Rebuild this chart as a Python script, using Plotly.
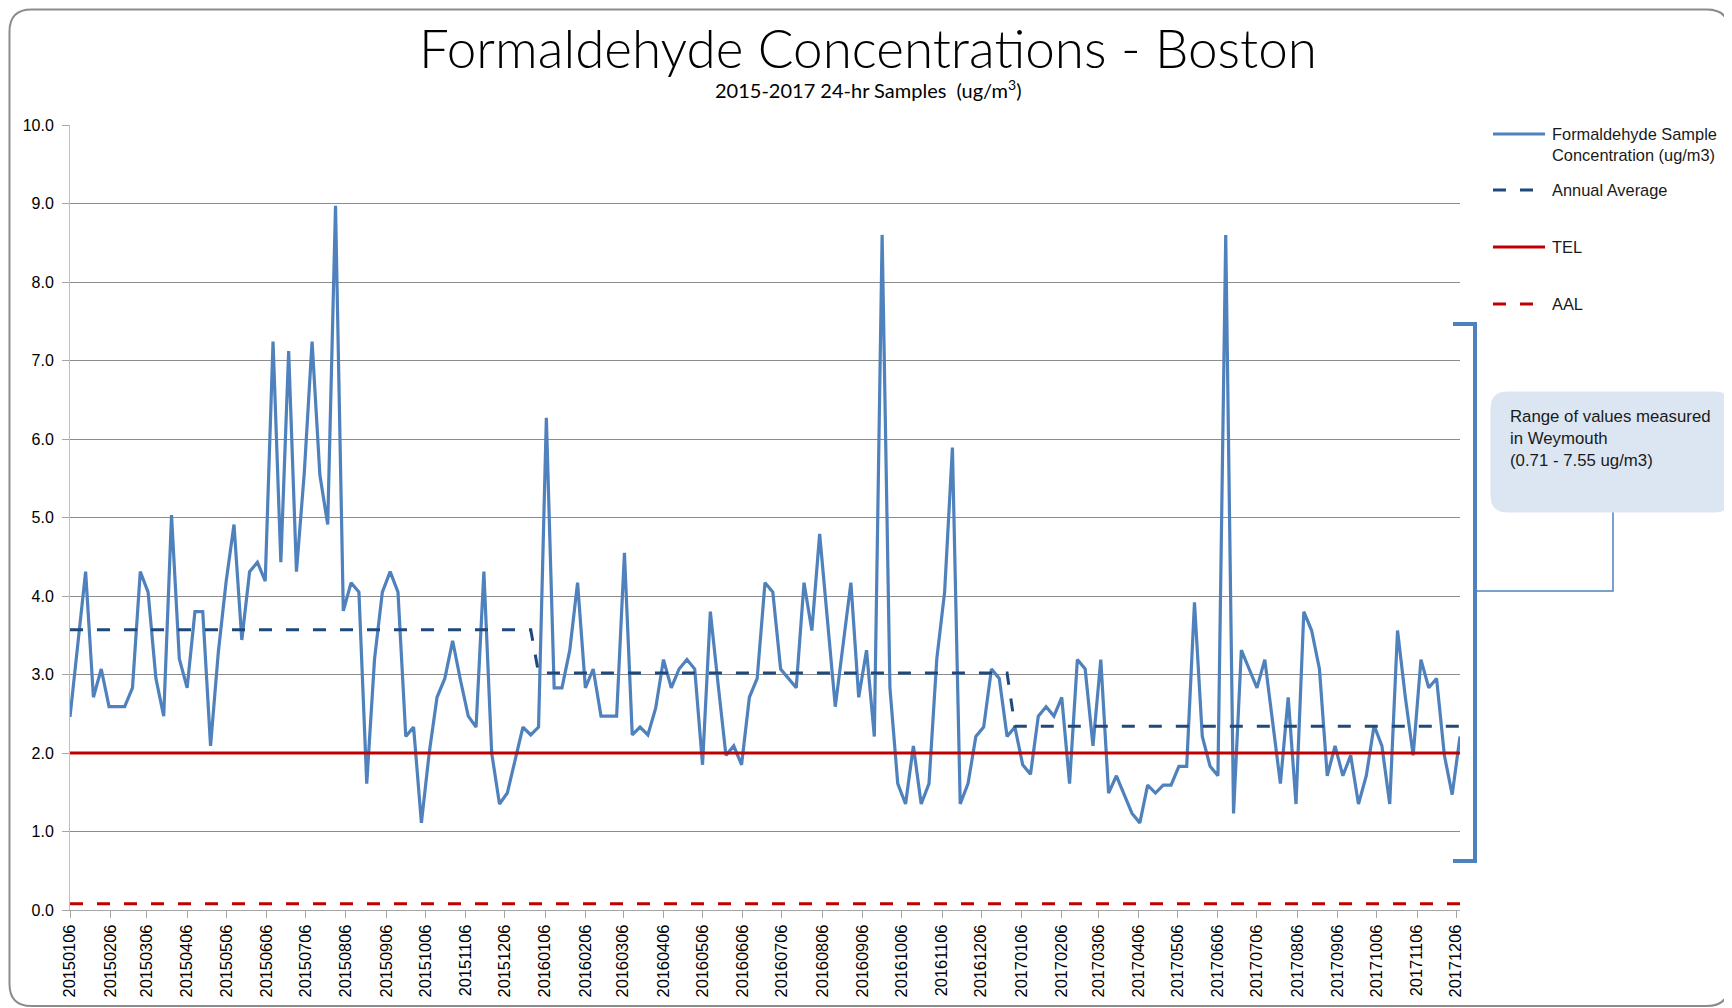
import plotly.graph_objects as go
import pandas as pd

# ---------------- data ----------------
conc = [
    2.46, 3.40, 4.31, 2.71, 3.07, 2.59, 2.59, 2.59, 2.83, 4.31,
    4.05, 2.95, 2.47, 5.03, 3.20, 2.83, 3.80, 3.80, 2.09, 3.29,
    4.19, 4.91, 3.44, 4.31, 4.43, 4.19, 7.24, 4.43, 7.12, 4.31,
    5.57, 7.24, 5.54, 4.91, 8.97, 3.81, 4.17, 4.05, 1.61, 3.20,
    4.05, 4.31, 4.05, 2.21, 2.33, 1.11, 2.00, 2.71, 2.95, 3.43,
    2.93, 2.47, 2.33, 4.31, 2.00, 1.35, 1.49, 1.90, 2.33, 2.23,
    2.33, 6.27, 2.83, 2.83, 3.31, 4.17, 2.83, 3.07, 2.47, 2.47,
    2.47, 4.55, 2.23, 2.33, 2.23, 2.57, 3.19, 2.83, 3.07, 3.19,
    3.07, 1.85, 3.80, 2.87, 1.97, 2.09, 1.85, 2.71, 2.95, 4.17,
    4.05, 3.07, 2.95, 2.83, 4.17, 3.56, 4.79, 3.68, 2.59, 3.38,
    4.17, 2.71, 3.31, 2.21, 8.60, 2.83, 1.61, 1.35, 2.09, 1.35,
    1.61, 3.20, 4.05, 5.89, 1.35, 1.61, 2.21, 2.33, 3.07, 2.95,
    2.21, 2.33, 1.85, 1.73, 2.47, 2.59, 2.47, 2.71, 1.61, 3.19,
    3.07, 2.09, 3.19, 1.49, 1.71, 1.47, 1.23, 1.11, 1.59, 1.49,
    1.59, 1.59, 1.83, 1.83, 3.92, 2.21, 1.83, 1.71, 8.60, 1.23,
    3.31, 3.07, 2.83, 3.19, 2.36, 1.61, 2.71, 1.35, 3.80, 3.56,
    3.07, 1.71, 2.09, 1.71, 1.97, 1.35, 1.71, 2.35, 2.09, 1.35,
    3.56, 2.71, 1.97, 3.19, 2.83, 2.95, 1.97, 1.47, 2.21,
]
first_sample = "2015-01-06"
sample_step = "6D"
sample_dates = pd.date_range(first_sample, periods=len(conc), freq=sample_step)

annual_avg_years = [2015, 2016, 2017]
annual_avg_values = [3.57, 3.02, 2.34]
tel_value = 2.0
aal_value = 0.08

series_names = ["Formaldehyde Sample<br>Concentration (ug/m3)", "Annual Average", "TEL", "AAL"]
title_text = "Formaldehyde Concentrations - Boston"
subtitle_text = "2015-2017 24-hr Samples &nbsp;(ug/m<sup>3</sup>)"
callout_text = "Range of values measured<br>in Weymouth<br>(0.71 - 7.55 ug/m3)"

avg_lookup = dict(zip(annual_avg_years, annual_avg_values))
avg_series = [avg_lookup[d.year] for d in sample_dates]
tel_series = [tel_value] * len(sample_dates)
aal_series = [aal_value] * len(sample_dates)

# ---------------- styling ----------------
PAGE_W, PAGE_H = 1732, 1008
OFF = 8                                  # default body margin of the html page
W, H = PAGE_W - OFF, PAGE_H - OFF
PL, PR, PT, PB = 70, 1460, 125, 910      # plot area in page pixels
C_LINE = "#4f81bd"
C_AVG = "#1f497d"
C_RED = "#c00000"
DASH = "13px,14px"
TXT = "#1a1a1a"
FONT = "Liberation Sans, Arial, sans-serif"


def px(x):
    return (x - PL) / (PR - PL)


def py(y):
    return (PB - y) / (PB - PT)


def rounded_rect(x0, y0, x1, y1, r):
    pts = [
        ("M", [(x0 + r, y0)]),
        ("L", [(x1 - r, y0)]),
        ("Q", [(x1, y0), (x1, y0 + r)]),
        ("L", [(x1, y1 - r)]),
        ("Q", [(x1, y1), (x1 - r, y1)]),
        ("L", [(x0 + r, y1)]),
        ("Q", [(x0, y1), (x0, y1 - r)]),
        ("L", [(x0, y0 + r)]),
        ("Q", [(x0, y0), (x0 + r, y0)]),
    ]
    s = ""
    for cmd, ps in pts:
        s += cmd + " " + " ".join(f"{px(a):.5f},{py(b):.5f}" for a, b in ps) + " "
    return s + "Z"


def polyline(points):
    return "M " + " L ".join(f"{px(a):.5f},{py(b):.5f}" for a, b in points)


fig = go.Figure()
fig.add_trace(go.Scatter(x=sample_dates, y=conc, mode="lines", name=series_names[0],
                         line=dict(color=C_LINE, width=3.2)))
fig.add_trace(go.Scatter(x=sample_dates, y=avg_series, mode="lines", name=series_names[1],
                         line=dict(color=C_AVG, width=3, dash=DASH)))
fig.add_trace(go.Scatter(x=sample_dates, y=tel_series, mode="lines", name=series_names[2],
                         line=dict(color=C_RED, width=3)))
fig.add_trace(go.Scatter(x=sample_dates, y=aal_series, mode="lines", name=series_names[3],
                         line=dict(color=C_RED, width=3, dash=DASH)))

shapes = []
annotations = []

# chart border
shapes.append(dict(type="path", xref="paper", yref="paper", path=rounded_rect(9.5, 9.5, 1729, 1006, 22),
                   line=dict(color="#8c8c8c", width=2), fillcolor="rgba(0,0,0,0)", layer="below"))

# manual legend
legend_rows = [134, 190, 247, 304]
legend_styles = [(C_LINE, "solid"), (C_AVG, DASH), (C_RED, "solid"), (C_RED, DASH)]
for row_y, (col, dash), name in zip(legend_rows, legend_styles, series_names):
    shapes.append(dict(type="line", xref="paper", yref="paper",
                       x0=px(1493), x1=px(1545), y0=py(row_y), y1=py(row_y),
                       line=dict(color=col, width=3, dash=dash)))
    annotations.append(dict(xref="paper", yref="paper", x=px(1550), y=py(row_y - 11),
                            xanchor="left", yanchor="top", align="left", showarrow=False,
                            text=name, font=dict(family=FONT, size=16.4, color=TXT)))

# bracket for Weymouth range
shapes.append(dict(type="path", xref="paper", yref="paper",
                   path=polyline([(1453, 324), (1475, 324), (1475, 861), (1453, 861)]),
                   line=dict(color=C_LINE, width=4)))
# connector
shapes.append(dict(type="path", xref="paper", yref="paper",
                   path=polyline([(1476, 591), (1613, 591), (1613, 512)]),
                   line=dict(color=C_LINE, width=1.5)))
# callout box
shapes.append(dict(type="path", xref="paper", yref="paper", path=rounded_rect(1491, 392, 1731, 512, 16),
                   line=dict(color="#dce6f2", width=1), fillcolor="#dce6f2"))
annotations.append(dict(xref="paper", yref="paper", x=px(1508), y=py(405), xanchor="left", yanchor="top",
                        align="left", showarrow=False, text=callout_text,
                        font=dict(family=FONT, size=16.8, color=TXT)))

# subtitle
annotations.append(dict(xref="paper", yref="paper", x=px(868), y=py(89), xanchor="center", yanchor="middle",
                        showarrow=False, text=subtitle_text,
                        font=dict(family="Lato, sans-serif", size=20, color="#000000")))

fig.update_layout(
    width=W, height=H,
    margin=dict(l=PL - OFF, r=PAGE_W - PR, t=PT - OFF, b=PAGE_H - PB, pad=0),
    paper_bgcolor="white", plot_bgcolor="white",
    showlegend=False,
    title=dict(text=title_text, x=(868 - OFF) / W, xref="container", xanchor="center",
               y=1 - (49 - OFF) / H, yref="container", yanchor="middle",
               font=dict(family="Lato, sans-serif", size=53, weight=300, color="#000000")),
    shapes=shapes,
    annotations=annotations,
    xaxis=dict(type="date", range=[sample_dates[0], sample_dates[-1]],
               tick0=first_sample, dtick="M1", tickformat="%Y%m%d", tickangle=-90,
               ticks="outside", ticklen=7, tickcolor="#a6a6a6", tickwidth=1,
               showgrid=False, zeroline=False, showline=True, linecolor="#a6a6a6", linewidth=1,
               tickfont=dict(family=FONT, size=16.4, color="#000000")),
    yaxis=dict(range=[0, 10], dtick=1, tick0=0, tickformat=".1f",
               ticks="outside", ticklen=7, tickcolor="#a6a6a6", tickwidth=1,
               ticklabelstandoff=5,
               showgrid=True, gridcolor="#8c8c8c", gridwidth=1, zeroline=False,
               showline=True, linecolor="#bfbfbf", linewidth=1,
               tickfont=dict(family=FONT, size=16, color="#000000")),
)

fig.write_html("out.html")
